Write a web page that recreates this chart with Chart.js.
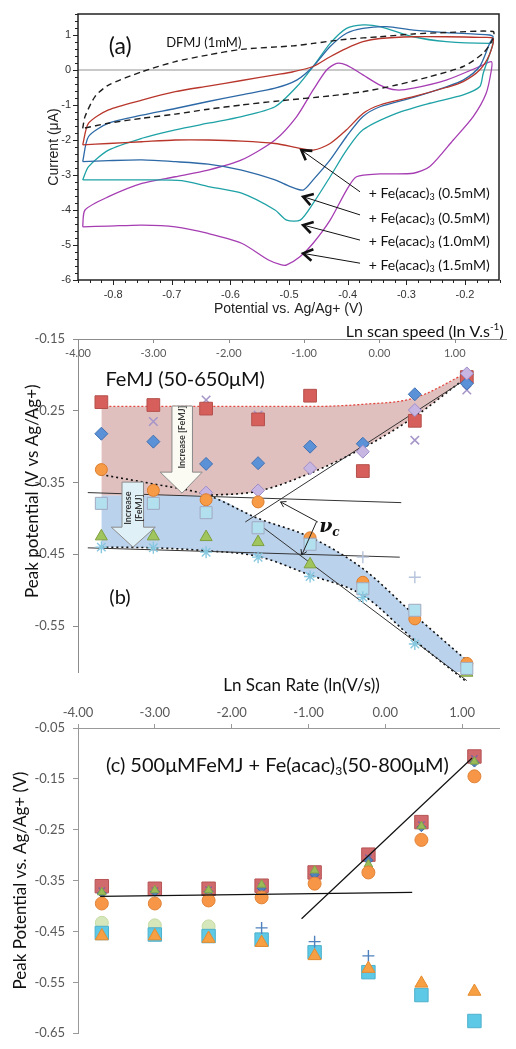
<!DOCTYPE html>
<html>
<head>
<meta charset="utf-8">
<title>Peak potentials vs scan rate</title>
<script src="https://cdn.jsdelivr.net/npm/chart.js@4.4.1/dist/chart.umd.min.js"></script>
<style>
  body { margin: 0; background: #fff; }
  canvas { position: absolute; left: 0; }
  #cvA { top: 0; }
  #cvB { top: 318px; }
  #cvC { top: 668px; }
</style>
</head>
<body>
<canvas id="cvA" width="516" height="320"></canvas>
<canvas id="cvB" width="516" height="380"></canvas>
<canvas id="cvC" width="516" height="381"></canvas>
<script>
Chart.defaults.font.family = 'Lato, "Noto Sans", sans-serif';
Chart.defaults.animation = false;

// ---------- (a) cyclic voltammograms, potential (V) / current (uA) around each loop ----------
const aPotentialTicks = [-0.8, -0.7, -0.6, -0.5, -0.4, -0.3, -0.2];
const aCurrentTicks = [-6, -5, -4, -3, -2, -1, 0, 1];

const dfmjV = [-0.852, -0.848, -0.831, -0.808, -0.751, -0.694, -0.638, -0.581, -0.493, -0.459, -0.402, -0.345, -0.288, -0.232, -0.152,
  -0.152, -0.169, -0.203, -0.260, -0.317, -0.374, -0.430, -0.516, -0.581, -0.638, -0.694, -0.751, -0.808, -0.852];
const dfmjI = [-1.67, -1.33, -0.76, -0.43, -0.05, 0.24, 0.43, 0.59, 0.69, 0.76, 0.88, 0.95, 1.03, 1.07, 1.10,
  0.90, 0.48, 0.10, -0.19, -0.43, -0.62, -0.74, -0.88, -1.00, -1.12, -1.26, -1.38, -1.52, -1.67];

const fe05aV = [-0.852, -0.842, -0.808, -0.751, -0.694, -0.638, -0.581, -0.524, -0.493, -0.459, -0.430, -0.402, -0.374, -0.345, -0.288, -0.232, -0.175, -0.152,
  -0.158, -0.175, -0.203, -0.232, -0.288, -0.345, -0.374, -0.402, -0.430, -0.459, -0.481, -0.524, -0.581, -0.638, -0.694, -0.751, -0.808, -0.852];
const fe05aI = [-2.14, -1.52, -1.14, -0.86, -0.62, -0.46, -0.30, -0.14, -0.05, 0.10, 0.38, 0.62, 0.81, 0.90, 0.95, 0.95, 0.93, 0.90,
  0.45, 0.00, -0.33, -0.50, -0.76, -1.00, -1.24, -1.71, -2.10, -2.29, -2.24, -2.10, -2.03, -2.00, -2.00, -2.05, -2.10, -2.14];

const fe05bV = [-0.852, -0.842, -0.808, -0.751, -0.694, -0.638, -0.581, -0.524, -0.487, -0.459, -0.430, -0.402, -0.374, -0.334, -0.288, -0.232, -0.158, -0.152,
  -0.158, -0.175, -0.203, -0.232, -0.288, -0.345, -0.374, -0.402, -0.430, -0.459, -0.476, -0.498, -0.524, -0.581, -0.638, -0.694, -0.751, -0.808, -0.852];
const fe05bI = [-2.62, -1.90, -1.52, -1.29, -1.10, -0.90, -0.71, -0.52, -0.29, 0.10, 0.67, 1.05, 1.19, 1.24, 1.14, 1.07, 1.00, 0.95,
  0.76, 0.10, -0.29, -0.48, -0.78, -1.05, -1.33, -1.90, -2.57, -3.14, -3.43, -3.33, -3.14, -2.86, -2.69, -2.62, -2.57, -2.59, -2.62];

const fe10V = [-0.852, -0.842, -0.808, -0.751, -0.694, -0.638, -0.581, -0.524, -0.487, -0.459, -0.430, -0.402, -0.374, -0.345, -0.288, -0.232, -0.158, -0.152,
  -0.155, -0.169, -0.175, -0.203, -0.260, -0.317, -0.374, -0.402, -0.430, -0.459, -0.481, -0.504, -0.524, -0.581, -0.638, -0.683, -0.751, -0.808, -0.852];
const fe10I = [-3.14, -2.76, -2.29, -1.95, -1.71, -1.52, -1.33, -1.05, -0.48, 0.10, 0.76, 1.19, 1.29, 1.24, 0.95, 0.81, 0.76, 0.80,
  0.60, -0.10, -0.48, -0.71, -0.95, -1.24, -1.71, -2.29, -3.05, -3.81, -4.29, -4.29, -4.00, -3.52, -3.33, -3.16, -3.14, -3.14, -3.14];

const fe15V = [-0.852, -0.848, -0.808, -0.751, -0.694, -0.638, -0.581, -0.524, -0.487, -0.459, -0.436, -0.419, -0.402, -0.374, -0.345, -0.317, -0.288, -0.232, -0.175, -0.155,
  -0.155, -0.164, -0.186, -0.220, -0.260, -0.288, -0.345, -0.385, -0.402, -0.430, -0.459, -0.481, -0.504, -0.513, -0.535, -0.581, -0.638, -0.694, -0.751, -0.808, -0.852];
const fe15I = [-4.48, -4.00, -3.62, -3.24, -3.05, -2.86, -2.57, -2.00, -1.33, -0.57, 0.00, 0.19, 0.14, -0.14, -0.43, -0.57, -0.52, -0.29, 0.10, 0.24,
  0.00, -0.67, -1.33, -2.00, -2.76, -2.95, -2.97, -3.05, -3.43, -4.29, -4.95, -5.33, -5.57, -5.57, -5.43, -4.95, -4.67, -4.48, -4.43, -4.46, -4.48];

const feConcLabels = ['(0.5mM)', '(0.5mM)', '(1.0mM)', '(1.5mM)'];

// ---------- (b) FeMJ peak potentials (V) vs ln scan rate ----------
const lnRate = [-3.69, -3.00, -2.30, -1.61, -0.92, -0.22, 0.47, 1.16];
const bXTicks = [-4, -3, -2, -1, 0, 1];
const bYTicks = [-0.55, -0.45, -0.35, -0.25, -0.15];

const bRedSquare = [-0.238, -0.242, -0.247, -0.262, -0.229, -0.334, -0.264, -0.203];
const bBlueDiamond = [-0.282, -0.293, -0.324, -0.323, -0.300, -0.296, -0.227, -0.212];
const bPurpleCross = [-0.240, -0.265, -0.235, -0.256, null, null, -0.291, -0.221];
const bLilacDiamond = [null, null, -0.364, -0.361, -0.330, -0.307, -0.249, -0.198];
const bOrangeCircle = [-0.332, -0.361, -0.374, -0.377, -0.427, -0.489, -0.540, -0.602];
const bCyanSquare = [-0.379, -0.379, -0.392, -0.413, -0.436, -0.498, -0.528, -0.609];
const bGreenTriangle = [-0.425, -0.425, -0.426, -0.433, -0.464, null, null, -0.615];
const bStar = [-0.440, -0.441, -0.447, -0.454, -0.481, -0.510, -0.575, -0.630];
const bPlus = [null, null, null, null, null, -0.454, -0.482, null];

// shaded bands and dotted guide curves
const bandRedTop = [-0.244, -0.244, -0.244, -0.244, -0.244, -0.241, -0.232, -0.197];
const bandRedBottom = [-0.368, -0.368, -0.368, -0.362, -0.337, -0.302, -0.258, -0.203];
const bandBlueTop = [-0.368, -0.368, -0.369, -0.400, -0.426, -0.470, -0.535, -0.598];
const bandBlueBottom = [-0.440, -0.441, -0.445, -0.453, -0.479, -0.507, -0.570, -0.628];
const dottedUpper = [-0.339, -0.352, -0.367, -0.400, -0.426, -0.470, -0.535, -0.598];
const dottedRise = [null, null, -0.368, -0.362, -0.337, -0.302, -0.258, -0.203];

// straight tangent lines
const bFlatHighX = [-3.87, 0.29], bFlatHighY = [-0.364, -0.378];
const bFlatLowX = [-3.87, 0.27], bFlatLowY = [-0.441, -0.454];
const bRiseX = [-1.78, 1.25], bRiseY = [-0.405, -0.199];
const bFallX = [-1.64, 1.16], bFallY = [-0.405, -0.626];

// ---------- (c) 500uM FeMJ + Fe(acac)3 ----------
const cXTicks = [-4, -3, -2, -1, 0, 1];
const cYTicks = [-0.65, -0.55, -0.45, -0.35, -0.25, -0.15, -0.05];
const cRedSquare = [-0.361, -0.366, -0.366, -0.360, -0.334, -0.299, -0.235, -0.106];
const cPurpleCross = [-0.370, -0.370, -0.368, -0.362, -0.336, -0.305, -0.240, -0.110];
const cGreenTriangle = [-0.373, -0.369, -0.369, -0.358, -0.330, -0.318, -0.243, -0.116];
const cBlueDiamond = [-0.375, -0.372, -0.372, -0.365, -0.338, -0.310, -0.245, -0.118];
const cOrangeCircle = [-0.395, -0.395, -0.389, -0.383, -0.356, -0.334, -0.270, -0.145];
const cPaleCircle = [-0.433, -0.438, -0.440, null, null, null, null, null];
const cCyanSquare = [-0.453, -0.456, -0.459, -0.466, -0.491, -0.530, -0.575, -0.626];
const cOrangeTriangle = [-0.459, -0.459, -0.464, -0.472, -0.498, -0.523, -0.552, -0.568];
const cPlus = [null, null, null, -0.443, -0.470, -0.498, null, null];
const cFlatX = [-3.71, 0.35], cFlatY = [-0.381, -0.373];
const cSteepX = [-1.09, 1.13], cSteepY = [-0.425, -0.109];

// ---------- helpers ----------
const pts = (xs, ys) => xs.map((x, i) => ({x: x, y: ys[i]})).filter(p => p.y !== null);

function marker(ys, style, radius, fill, stroke, order, bw) {
  return {data: pts(lnRate, ys), showLine: false, pointStyle: style, pointRadius: radius,
    pointBackgroundColor: fill, pointBorderColor: stroke, pointBorderWidth: bw || 1,
    order: order, clip: false};
}
function curve(xs, ys, color, width, dash, order, extra) {
  return Object.assign({data: pts(xs, ys), borderColor: color, borderWidth: width, borderDash: dash || [],
    pointRadius: 0, fill: false, tension: 0, order: order, clip: false}, extra || {});
}

function richText(ctx, parts, x, y, align, size, family, weight, color) {
  const w0 = weight ? weight + ' ' : '';
  const big = w0 + size + 'px ' + family;
  const small = w0 + Math.round(size * 0.62) + 'px ' + family;
  let w = 0;
  parts.forEach(p => { ctx.font = p[1] ? small : big; w += ctx.measureText(p[0]).width; });
  let cx = align === 'right' ? x - w : align === 'center' ? x - w / 2 : x;
  ctx.textAlign = 'left';
  ctx.textBaseline = 'middle';
  ctx.fillStyle = color || '#1a1a1a';
  parts.forEach(p => {
    ctx.font = p[1] ? small : big;
    const dy = p[1] === 1 ? size * 0.3 : p[1] === -1 ? -size * 0.32 : 0;
    ctx.fillText(p[0], cx, y + dy);
    cx += ctx.measureText(p[0]).width;
  });
}

function arrowLine(ctx, x1, y1, x2, y2, head, headWidth) {
  ctx.beginPath(); ctx.moveTo(x1, y1); ctx.lineTo(x2, y2); ctx.stroke();
  if (!head) return;
  const ang = Math.atan2(y2 - y1, x2 - x1);
  ctx.save();
  ctx.lineWidth = headWidth;
  ctx.beginPath();
  ctx.moveTo(x2 - head * Math.cos(ang - 0.55), y2 - head * Math.sin(ang - 0.55));
  ctx.lineTo(x2, y2);
  ctx.lineTo(x2 - head * Math.cos(ang + 0.55), y2 - head * Math.sin(ang + 0.55));
  ctx.stroke();
  ctx.restore();
}

function rotatedText(ctx, text, x, y, font, color) {
  ctx.save();
  ctx.translate(x, y);
  ctx.rotate(-Math.PI / 2);
  ctx.font = font;
  ctx.fillStyle = color;
  ctx.textAlign = 'center';
  ctx.textBaseline = 'middle';
  ctx.fillText(text, 0, 0);
  ctx.restore();
}

// ---------- chart (a) ----------
const decorA = {
  id: 'decorA',
  beforeDatasetsDraw(chart) {
    const {ctx, chartArea: a, scales: {y}} = chart;
    ctx.save();
    ctx.strokeStyle = '#c9c9c9';
    ctx.lineWidth = 2;
    const y0 = y.getPixelForValue(0);
    ctx.beginPath(); ctx.moveTo(a.left, y0); ctx.lineTo(a.right, y0); ctx.stroke();
    ctx.restore();
  },
  afterDatasetsDraw(chart) {
    const {ctx, chartArea: a, scales: {x, y}} = chart;
    ctx.save();
    ctx.strokeStyle = '#222';
    ctx.lineWidth = 1.5;
    ctx.strokeRect(a.left, a.top, a.right - a.left, a.bottom - a.top);
    // tick marks
    ctx.lineWidth = 1;
    ctx.beginPath();
    for (let k = -43; k <= -7; k++) {
      const px = Math.round(x.getPixelForValue(k * 0.02)) + 0.5;
      const len = k % 5 === 0 ? 5 : 3;
      ctx.moveTo(px, a.bottom); ctx.lineTo(px, a.bottom + len);
    }
    for (let k = -30; k <= 8; k++) {
      const py = Math.round(y.getPixelForValue(k * 0.2)) + 0.5;
      const len = k % 5 === 0 ? 5 : 3;
      ctx.moveTo(a.left, py); ctx.lineTo(a.left - len, py);
    }
    ctx.stroke();

    richText(ctx, [['(a)', 0]], x.getPixelForValue(-0.788), y.getPixelForValue(0.66), 'center', 23, 'Lato', '', '#111');
    richText(ctx, [['DFMJ (1mM)', 0]], x.getPixelForValue(-0.7097), y.getPixelForValue(0.77), 'left', 13, 'Lato', '', '#111');

    const tailI = [-3.48, -4.14, -4.86, -5.52];
    const headV = [-0.479, -0.476, -0.476, -0.476];
    const headI = [-2.29, -3.62, -4.43, -5.24];
    const textI = [-3.514, -4.229, -4.886, -5.571];
    ctx.strokeStyle = '#111';
    ctx.lineWidth = 1;
    feConcLabels.forEach((lab, i) => {
      arrowLine(ctx, x.getPixelForValue(-0.379), y.getPixelForValue(tailI[i]),
        x.getPixelForValue(headV[i]), y.getPixelForValue(headI[i]), 11, 2.6);
      richText(ctx, [['+ Fe(acac)', 0], ['3', 1], [' ' + lab, 0]],
        x.getPixelForValue(-0.158), y.getPixelForValue(textI[i]), 'right', 14, 'Lato', '', '#111');
    });
    ctx.restore();
  }
};

const cvStyle = {tension: 0.25, pointRadius: 0, fill: false, showLine: true};
new Chart(document.getElementById('cvA'), {
  type: 'line',
  data: {
    datasets: [
      Object.assign({data: pts(dfmjV, dfmjI), borderColor: '#1d1d1d', borderWidth: 1.4, borderDash: [6, 4]}, cvStyle),
      Object.assign({data: pts(fe05aV, fe05aI), borderColor: '#b8362b', borderWidth: 1.3}, cvStyle),
      Object.assign({data: pts(fe05bV, fe05bI), borderColor: '#2d69a6', borderWidth: 1.3}, cvStyle),
      Object.assign({data: pts(fe10V, fe10I), borderColor: '#1ea2a6', borderWidth: 1.3}, cvStyle),
      Object.assign({data: pts(fe15V, fe15I), borderColor: '#a63db3', borderWidth: 1.3}, cvStyle)
    ]
  },
  options: {
    responsive: false,
    events: [],
    layout: {padding: {top: 14, right: 17, bottom: 0, left: 0}},
    plugins: {legend: {display: false}, tooltip: {enabled: false}},
    scales: {
      x: {
        type: 'linear', min: -0.86, max: -0.142,
        afterBuildTicks: s => { s.ticks = aPotentialTicks.map(v => ({value: v})); },
        afterFit: s => { s.height = 40; },
        grid: {display: false, drawTicks: false},
        border: {display: false},
        ticks: {padding: 8, color: '#333', font: {family: 'Liberation Sans', size: 11}, callback: v => v.toFixed(1)},
        title: {display: true, text: 'Potential vs. Ag/Ag+ (V)', color: '#222',
          font: {family: 'Liberation Sans', size: 14}, padding: {top: 0, bottom: 2.6}}
      },
      y: {
        type: 'linear', min: -6, max: 1.6,
        afterBuildTicks: s => { s.ticks = aCurrentTicks.map(v => ({value: v})); },
        afterFit: s => { s.width = 78; },
        grid: {display: false, drawTicks: false},
        border: {display: false},
        ticks: {padding: 7, color: '#333', font: {family: 'Liberation Sans', size: 11}, callback: v => String(v)},
        title: {display: true, text: 'Current (μA)', color: '#222',
          font: {family: 'Liberation Sans', size: 14}, padding: {top: 45.6, bottom: 0}}
      }
    }
  },
  plugins: [decorA]
});

// ---------- chart (b) ----------
const decorB = {
  id: 'decorB',
  afterDatasetsDraw(chart) {
    const {ctx, chartArea: a, scales: {x, y}} = chart;
    const X = v => x.getPixelForValue(v), Y = v => y.getPixelForValue(v);
    ctx.save();
    // top axis: ticks hang inside the plot, labels sit just under the axis line
    ctx.strokeStyle = '#8c8c8c';
    ctx.lineWidth = 1;
    ctx.beginPath();
    bXTicks.forEach(v => { const px = Math.round(X(v)) + 0.5; ctx.moveTo(px, a.top); ctx.lineTo(px, a.top + 4); });
    ctx.stroke();
    ctx.font = '11px Lato';
    ctx.fillStyle = '#595959';
    ctx.textAlign = 'center';
    ctx.textBaseline = 'middle';
    bXTicks.forEach(v => ctx.fillText(v.toFixed(2), X(v), a.top + 14));

    // block arrows "Increase [FeMJ]"
    const arrows = [
      {x0: -2.753, x1: -2.481, top: -0.2434, base: -0.3355, h0: -2.909, h1: -2.351, tx: -2.62, ty: -0.3648, fill: '#fbfbf4'},
      {x0: -3.416, x1: -3.130, top: -0.3494, base: -0.4122, h0: -3.558, h1: -2.974, tx: -3.27, ty: -0.440, fill: '#dff0f6'}
    ];
    arrows.forEach(r => {
      ctx.beginPath();
      ctx.moveTo(X(r.x0), Y(r.top)); ctx.lineTo(X(r.x1), Y(r.top)); ctx.lineTo(X(r.x1), Y(r.base));
      ctx.lineTo(X(r.h1), Y(r.base)); ctx.lineTo(X(r.tx), Y(r.ty)); ctx.lineTo(X(r.h0), Y(r.base));
      ctx.lineTo(X(r.x0), Y(r.base)); ctx.closePath();
      ctx.fillStyle = r.fill; ctx.fill();
      ctx.strokeStyle = '#8a8a8a'; ctx.stroke();
    });
    rotatedText(ctx, 'Increase [FeMJ]', X(-2.617), Y(-0.2867), 'bold 9px Lato', '#3a3a3a');
    rotatedText(ctx, 'Increase', X(-3.338), Y(-0.3857), 'bold 9px Lato', '#3a3a3a');
    rotatedText(ctx, '[FeMJ]', X(-3.195), Y(-0.3857), 'bold 9px Lato', '#3a3a3a');

    // critical scan rate marker
    ctx.strokeStyle = '#222';
    ctx.lineWidth = 1;
    arrowLine(ctx, X(-0.818), Y(-0.405), X(-1.312), Y(-0.377), 6, 1);
    arrowLine(ctx, X(-0.836), Y(-0.405), X(-1.03), Y(-0.451), 6, 1);
    richText(ctx, [['ν', 0], ['c', 1]], X(-0.80), Y(-0.412), 'left', 19, '"DejaVu Serif"', 'italic bold', '#111');

    richText(ctx, [['FeMJ (50-650μM)', 0]], X(-3.636), Y(-0.207), 'left', 20, 'Lato', '', '#111');
    richText(ctx, [['(b)', 0]], X(-3.584), Y(-0.51), 'left', 20, 'Lato', '', '#111');
    richText(ctx, [['Ln scan speed (ln V.s', 0], ['-1', -1], [')', 0]], X(1.649), Y(-0.140), 'right', 16, 'Lato', '', '#111');
    rotatedText(ctx, 'Peak potential (V vs Ag/Ag+)', X(-4.61), Y(-0.362), '17px Lato', '#111');
    ctx.restore();
  }
};

new Chart(document.getElementById('cvB'), {
  type: 'line',
  data: {
    datasets: [
      curve(lnRate, bandRedTop, '#e2483f', 1.3, [2, 2], 40, {fill: '+1', backgroundColor: 'rgba(180,105,100,0.42)', cubicInterpolationMode: 'monotone'}),
      curve(lnRate, bandRedBottom, 'rgba(0,0,0,0)', 0, [], 39, {cubicInterpolationMode: 'monotone'}),
      curve(lnRate, bandBlueTop, 'rgba(0,0,0,0)', 0, [], 38, {fill: '+1', backgroundColor: 'rgba(120,165,220,0.5)', cubicInterpolationMode: 'monotone'}),
      curve(lnRate, bandBlueBottom, '#111', 1.6, [2, 3], 30, {cubicInterpolationMode: 'monotone'}),
      curve(lnRate, dottedUpper, '#111', 1.6, [2, 3], 30, {cubicInterpolationMode: 'monotone'}),
      curve(lnRate, dottedRise, '#111', 1.6, [2, 3], 30, {cubicInterpolationMode: 'monotone'}),
      curve(bFlatHighX, bFlatHighY, '#333', 1, [], 20),
      curve(bFlatLowX, bFlatLowY, '#333', 1, [], 20),
      curve(bRiseX, bRiseY, '#333', 1, [], 20),
      curve(bFallX, bFallY, '#333', 1, [], 20),
      marker(bPurpleCross, 'crossRot', 6, '#a595c8', '#a595c8', 9, 1.6),
      marker(bRedSquare, 'rect', 9, '#d65f5b', '#b4504c', 8),
      marker(bBlueDiamond, 'rectRot', 6.5, '#5b91d6', '#3f70b2', 7),
      marker(bLilacDiamond, 'rectRot', 6.5, '#c7b6e2', '#9f8cc6', 6),
      marker(bGreenTriangle, 'triangle', 7, '#9fc55c', '#7f9f41', 6),
      marker(bOrangeCircle, 'circle', 6, '#f79b47', '#dc7d2c', 5),
      marker(bCyanSquare, 'rect', 8.5, '#b3e0ee', '#a0a9c0', 4),
      marker(bStar, 'star', 6, '#86c8e0', '#86c8e0', 3, 1.4),
      marker(bPlus, 'cross', 6, '#b5c3dc', '#b5c3dc', 3, 1.4)
    ]
  },
  options: {
    responsive: false,
    events: [],
    layout: {padding: {top: 0, right: 1, bottom: 26, left: 0}},
    plugins: {legend: {display: false}, tooltip: {enabled: false}},
    scales: {
      x: {
        type: 'linear', position: 'top', min: -4, max: 1.68,
        afterBuildTicks: s => { s.ticks = bXTicks.map(v => ({value: v})); },
        afterFit: s => { s.height = 21; },
        grid: {display: false, drawTicks: false},
        border: {display: true, color: '#8c8c8c'},
        ticks: {display: false}
      },
      y: {
        type: 'linear', min: -0.614, max: -0.15,
        afterBuildTicks: s => { s.ticks = bYTicks.map(v => ({value: v})); },
        afterFit: s => { s.width = 78; },
        grid: {display: true, drawOnChartArea: false, drawTicks: true, tickLength: 5, color: '#8c8c8c'},
        border: {display: true, color: '#8c8c8c'},
        ticks: {padding: 8, color: '#595959', font: {size: 13}, callback: v => v.toFixed(2)}
      }
    }
  },
  plugins: [decorB]
});

// ---------- chart (c) ----------
const decorC = {
  id: 'decorC',
  afterDatasetsDraw(chart) {
    const {ctx, scales: {x, y}} = chart;
    const X = v => x.getPixelForValue(v), Y = v => y.getPixelForValue(v);
    ctx.save();
    richText(ctx, [['(c) 500μMFeMJ + Fe(acac)', 0], ['3', 1], ['(50-800μM)', 0]], X(-3.636), Y(-0.123), 'left', 20, 'Lato', '', '#111');
    richText(ctx, [['Ln Scan Rate (ln(V/s))', 0]], X(-1.09), Y(0.0327), 'center', 17, 'Lato', '', '#111');
    rotatedText(ctx, 'Peak Potential vs. Ag/Ag+ (V)', X(-4.753), Y(-0.35), '17px Lato', '#111');
    ctx.restore();
  }
};

new Chart(document.getElementById('cvC'), {
  type: 'line',
  data: {
    datasets: [
      curve(cFlatX, cFlatY, '#111', 1.2, [], 0),
      curve(cSteepX, cSteepY, '#111', 1.2, [], 0),
      marker(cRedSquare, 'rect', 9.5, '#d06a6c', '#b65456', 6),
      marker(cPurpleCross, 'crossRot', 4.5, '#8064a2', '#8064a2', 5, 1.4),
      marker(cBlueDiamond, 'rectRot', 4.5, '#4f81bd', '#3d6aa0', 4),
      marker(cGreenTriangle, 'triangle', 5, '#9bbb59', '#86a547', 3),
      marker(cOrangeCircle, 'circle', 6.5, '#f79646', '#e0843a', 1),
      marker(cPaleCircle, 'circle', 6.5, '#d6e8bb', '#c6dba5', 4),
      marker(cCyanSquare, 'rect', 9.5, '#5dc9e6', '#4eb0cc', 2),
      marker(cOrangeTriangle, 'triangle', 7.5, '#f7a043', '#e58c30', 1),
      marker(cPlus, 'cross', 6, '#4f81bd', '#4f81bd', 1, 1.4)
    ]
  },
  options: {
    responsive: false,
    events: [],
    layout: {padding: {top: 0, right: 17, bottom: 9, left: 0}},
    plugins: {legend: {display: false}, tooltip: {enabled: false}},
    scales: {
      x: {
        type: 'linear', position: 'top', min: -4, max: 1.48,
        afterBuildTicks: s => { s.ticks = cXTicks.map(v => ({value: v})); },
        afterFit: s => { s.height = 60; },
        grid: {display: true, drawOnChartArea: false, drawTicks: true, tickLength: 4, color: '#999'},
        border: {display: true, color: '#999'},
        ticks: {padding: 3, color: '#595959', font: {size: 13}, callback: v => v.toFixed(2)}
      },
      y: {
        type: 'linear', min: -0.65, max: -0.05,
        afterBuildTicks: s => { s.ticks = cYTicks.map(v => ({value: v})); },
        afterFit: s => { s.width = 78; },
        grid: {display: true, drawOnChartArea: false, drawTicks: true, tickLength: 5, color: '#999'},
        border: {display: true, color: '#999'},
        ticks: {padding: 8, color: '#595959', font: {size: 13}, callback: v => v.toFixed(2)}
      }
    }
  },
  plugins: [decorC]
});
</script>
</body>
</html>
